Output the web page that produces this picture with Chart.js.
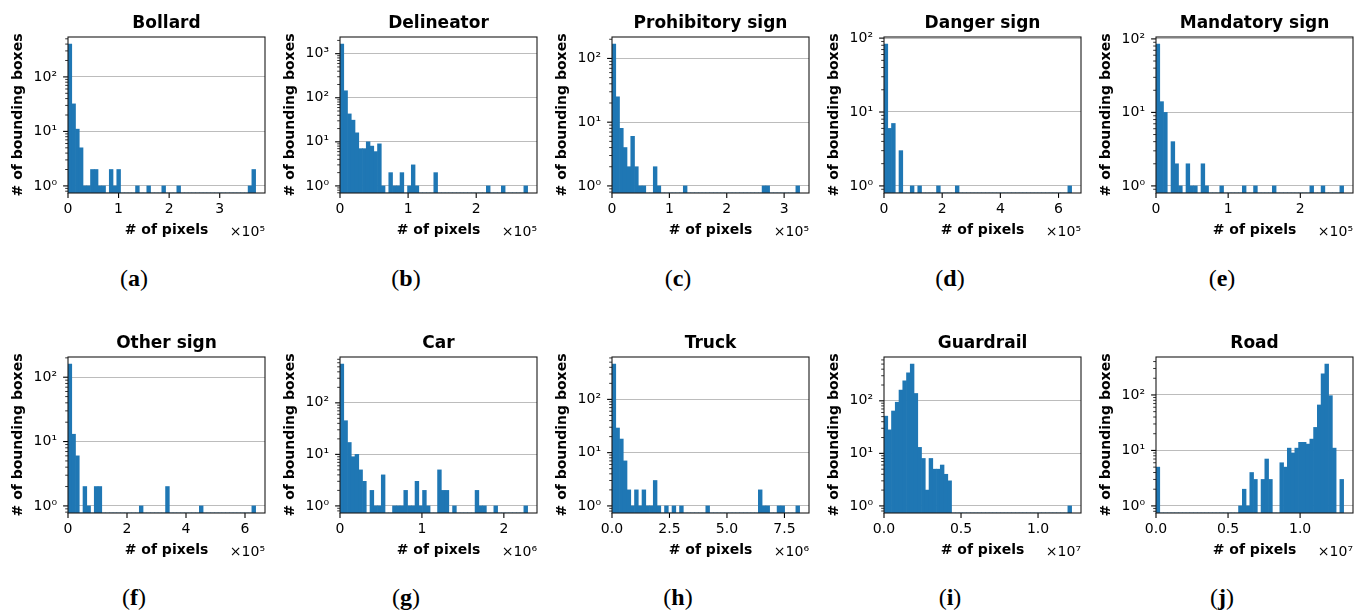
<!DOCTYPE html>
<html><head><meta charset="utf-8">
<script src="https://cdn.jsdelivr.net/npm/chart.js@4.4.0/dist/chart.umd.min.js"></script>
<style>
html,body{margin:0;padding:0;background:#fff;}
#wrap{position:relative;width:1365px;height:613px;overflow:hidden;background:#fff;}
#wrap canvas{position:absolute;}
.cap{position:absolute;width:80px;text-align:center;font-family:'Liberation Serif','DejaVu Serif',serif;font-size:24px;line-height:28px;color:#000;}
</style></head><body><div id="wrap"></div>
<script>
// ---------- data ----------
const titles = ['Bollard','Delineator','Prohibitory sign','Danger sign','Mandatory sign','Other sign','Car','Truck','Guardrail','Road'];
const letters = ['a','b','c','d','e','f','g','h','i','j'];
// upper edge of the histogram range, in units of 10^exponent pixels (50 bins from 0)
const binMax = [3.71, 2.755, 3.27, 6.45, 2.60, 6.36, 2.29, 8.16, 1.218, 1.302];
const exponents = [5, 5, 5, 5, 5, 5, 6, 6, 7, 7];
const xTickValues = [[0,1,2,3],[0,1,2],[0,1,2,3],[0,2,4,6],[0,1,2],[0,2,4,6],[0,1,2],[0,2.5,5,7.5],[0,0.5,1],[0,0.5,1]];
const xTickLabels = [['0','1','2','3'],['0','1','2'],['0','1','2','3'],['0','2','4','6'],['0','1','2'],['0','2','4','6'],['0','1','2'],['0.0','2.5','5.0','7.5'],['0.0','0.5','1.0'],['0.0','0.5','1.0']];

const countsBollard = [400,32,11,5,1,1,2,2,1,1, 0,2,1,2,0,0,0,0,1,0, 0,1,0,0,0,1,0,0,0,1, 0,0,0,0,0,0,0,0,0,0, 0,0,0,0,0,0,0,0,1,2];
const countsDelineator = [1650,144,43,31,16,7,7,10,8,6, 9,1,0,2,1,1,2,0,1,3, 1,0,0,0,0,2,0,0,0,0, 0,0,0,0,0,0,0,0,0,1, 0,0,0,1,0,0,0,0,0,1];
const countsProhibitory = [168,25,8,4,2,6,2,1,1,0, 0,2,1,0,0,0,0,0,0,1, 0,0,0,0,0,0,0,0,0,0, 0,0,0,0,0,0,0,0,0,0, 1,1,0,0,0,0,0,0,0,1];
const countsDanger = [83,6,7,0,3,0,0,1,0,1, 0,0,0,0,1,0,0,0,0,1, 0,0,0,0,0,0,0,0,0,0, 0,0,0,0,0,0,0,0,0,0, 0,0,0,0,0,0,0,0,0,1];
const countsMandatory = [85,14,10,0,4,2,1,0,2,1, 1,0,2,1,0,0,0,1,0,0, 0,0,0,1,0,0,1,0,0,0, 0,1,0,0,0,0,0,0,0,0, 0,1,0,0,1,0,0,0,0,1];
const countsOther = [160,13,6,0,2,1,0,2,2,0, 0,0,0,0,0,0,0,0,0,1, 0,0,0,0,0,0,2,0,0,0, 0,0,0,0,0,1,0,0,0,0, 0,0,0,0,0,0,0,0,0,1];
const countsCar = [565,45,17,9,10,5,3,0,2,1, 1,4,0,0,1,1,1,2,1,1, 3,1,2,1,0,0,5,2,2,0, 1,0,0,0,0,0,2,1,1,0, 0,1,0,0,0,0,0,0,0,1];
const countsTruck = [460,29,18,7,2,1,2,1,2,1, 1,3,1,0,1,0,1,0,1,0, 0,0,0,0,0,1,0,0,0,0, 0,0,0,0,0,0,0,0,0,2, 1,1,0,0,1,1,0,0,0,1];
const countsGuardrail = [51,28,64,94,160,240,340,500,138,13, 8,2,8,5,5,6,4,3,0,0, 0,0,0,0,0,0,0,0,0,0, 0,0,0,0,0,0,0,0,0,0, 0,0,0,0,0,0,0,0,0,1];
const countsRoad = [5,0,0,0,0,0,0,0,0,0, 0,0,0,0,0,0,0,0,0,0, 0,0,1,2,1,4,3,0,3,7, 3,0,0,6,5,11,9,11,14,14, 13,16,26,66,240,360,97,11,0,3];
const allCounts = [countsBollard,countsDelineator,countsProhibitory,countsDanger,countsMandatory,countsOther,countsCar,countsTruck,countsGuardrail,countsRoad];

// ---------- rendering ----------
Chart.defaults.font.family = "'DejaVu Sans', sans-serif";
Chart.defaults.color = '#000';
const SUP = {'-':'\u207B','0':'\u2070','1':'\u00B9','2':'\u00B2','3':'\u00B3','4':'\u2074','5':'\u2075','6':'\u2076','7':'\u2077','8':'\u2078','9':'\u2079'};
const sup = n => String(n).split('').map(c => SUP[c]).join('');
const isDecade = v => { const l = Math.log10(v); return Math.abs(l - Math.round(l)) < 1e-9; };

const decor = {
  id: 'decor',
  afterDatasetsDraw(chart, args, opts) {
    const {ctx, chartArea: a, scales: {x, y}} = chart;
    ctx.save();
    ctx.strokeStyle = '#000';
    ctx.lineWidth = 1.1;
    x.ticks.forEach(t => {
      const px = x.getPixelForValue(t.value);
      ctx.beginPath(); ctx.moveTo(px, a.bottom); ctx.lineTo(px, a.bottom + 4.9); ctx.stroke();
    });
    y.ticks.forEach(t => {
      const py = y.getPixelForValue(t.value);
      const major = isDecade(t.value);
      ctx.lineWidth = major ? 1.1 : 0.8;
      ctx.beginPath(); ctx.moveTo(a.left, py); ctx.lineTo(a.left - (major ? 4.9 : 2.8), py); ctx.stroke();
    });
    ctx.lineWidth = 1.1;
    ctx.strokeStyle = '#1a1a1a';
    ctx.strokeRect(a.left, a.top, a.right - a.left, a.bottom - a.top);
    ctx.fillStyle = '#000';
    ctx.font = "14px 'DejaVu Sans'";
    ctx.textAlign = 'right';
    ctx.textBaseline = 'alphabetic';
    ctx.fillText('\u00D710' + sup(opts.exp), a.right, a.bottom + 43);
    ctx.restore();
  }
};

const wrap = document.getElementById('wrap');
const CW = 272, CH = 243;
allCounts.forEach((counts, k) => {
  const col = k % 5, row = Math.floor(k / 5);
  const left = col * 272, top = row * 320;
  const cv = document.createElement('canvas');
  cv.width = CW; cv.height = CH;
  cv.style.left = left + 'px'; cv.style.top = top + 'px';
  cv.style.width = CW + 'px'; cv.style.height = CH + 'px';
  wrap.appendChild(cv);

  const w = binMax[k] / counts.length;
  const pts = counts.map((c, i) => ({x: (i + 0.5) * w, y: c}));
  const maxC = Math.max(...counts);
  const lmax = Math.log10(maxC);
  const yMin = Math.pow(10, -0.05 * lmax), yMax = Math.pow(10, 1.05 * lmax);
  const tv = xTickValues[k], tl = xTickLabels[k];

  new Chart(cv, {
    type: 'bar',
    data: { datasets: [{ data: pts, backgroundColor: '#1f77b4', borderWidth: 0, barPercentage: 1, categoryPercentage: 1 }] },
    options: {
      responsive: false, animation: false, devicePixelRatio: 1,
      layout: { padding: { left: 0, right: 7, top: 0, bottom: 0 } },
      plugins: {
        legend: { display: false }, tooltip: { enabled: false },
        title: { display: true, text: titles[k], fullSize: false, color: '#000',
                 font: { size: 17, weight: 'bold' }, padding: { top: 12.9, bottom: 3.7 } },
        decor: { exp: exponents[k] }
      },
      scales: {
        x: {
          type: 'linear', min: 0, max: 1.05 * binMax[k], bounds: 'data', offset: false,
          grid: { display: false, drawTicks: false, offset: false }, border: { display: false },
          afterBuildTicks: s => { s.ticks = tv.map(v => ({ value: v })); },
          afterFit: s => { s.height = 50; },
          ticks: { autoSkip: false, maxRotation: 0, padding: 8, font: { size: 14 }, color: '#000',
                   callback: (v) => tl[tv.indexOf(v)] },
          title: { display: true, text: '# of pixels', font: { size: 14, weight: 'bold' }, color: '#000', padding: { top: 0, bottom: 4.6 } }
        },
        y: {
          type: 'logarithmic', min: yMin, max: yMax, bounds: 'data',
          grid: { display: true, drawTicks: false, lineWidth: 1.1,
                  color: c => (c.tick && isDecade(c.tick.value)) ? 'rgba(176,176,176,0.85)' : 'rgba(0,0,0,0)' },
          border: { display: false },
          afterBuildTicks: s => {
            const t = [];
            for (let e = Math.floor(Math.log10(yMin)); e <= Math.ceil(Math.log10(yMax)); e++) {
              for (let m = 1; m <= 9; m++) {
                const v = m * Math.pow(10, e);
                if (v >= yMin && v <= yMax) t.push({ value: v, major: m === 1 });
              }
            }
            s.ticks = t;
          },
          afterFit: s => { s.width = 68; },
          ticks: { autoSkip: false, padding: 11, font: { size: 14 }, color: '#000',
                   callback: v => isDecade(v) ? '10' + sup(Math.round(Math.log10(v))) : '' },
          title: { display: true, text: '# of bounding boxes', font: { size: 14, weight: 'bold' }, color: '#000', padding: { top: 10, bottom: 0 } }
        }
      }
    },
    plugins: [decor]
  });

  const cap = document.createElement('div');
  cap.className = 'cap';
  cap.style.left = (134 + col * 272 - 40) + 'px';
  cap.style.top = (263.6 + row * 319) + 'px';
  cap.innerHTML = '(<b>' + letters[k] + '</b>)';
  wrap.appendChild(cap);
});
</script></body></html>
